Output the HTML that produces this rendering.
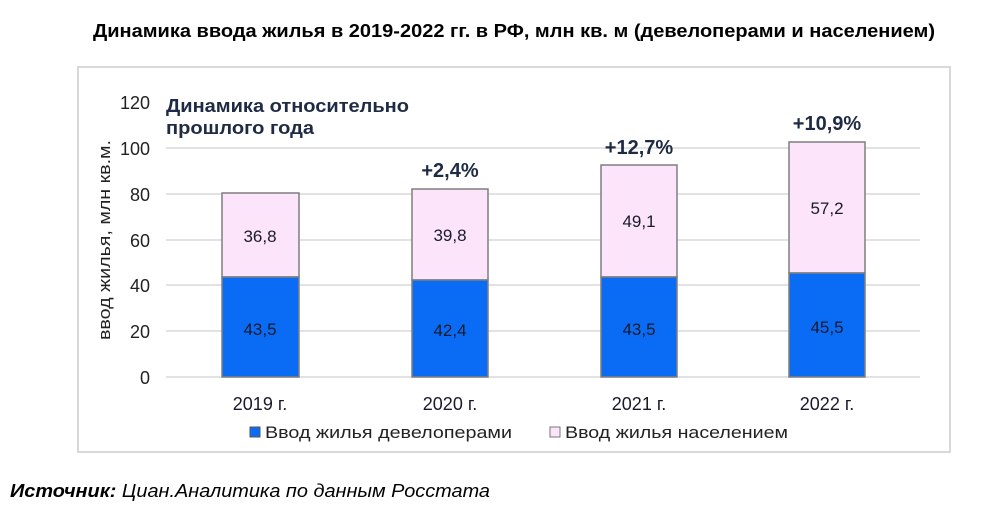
<!DOCTYPE html>
<html><head><meta charset="utf-8"><style>
body{margin:0;background:#fff;width:990px;height:520px;overflow:hidden;font-family:"Liberation Sans",sans-serif}
</style></head><body>
<svg width="990" height="520" xmlns="http://www.w3.org/2000/svg" font-family="Liberation Sans, sans-serif">
<text x="93" y="37" font-size="18" font-weight="bold" fill="#000" textLength="842" lengthAdjust="spacingAndGlyphs">Динамика ввода жилья в 2019-2022 гг. в РФ, млн кв. м (девелоперами и населением)</text>
<rect x="78" y="67" width="872" height="385" fill="#fff" stroke="#d9d9d9" stroke-width="2"/>
<g stroke="#d9d9d9" stroke-width="1.5">
<line x1="166" x2="920" y1="331" y2="331"/><line x1="166" x2="920" y1="285" y2="285"/>
<line x1="166" x2="920" y1="240" y2="240"/><line x1="166" x2="920" y1="194" y2="194"/>
<line x1="166" x2="920" y1="148" y2="148"/><line x1="166" x2="920" y1="377" y2="377"/>
</g>
<g font-size="18" fill="#222" text-anchor="end">
<text x="150" y="384">0</text><text x="150" y="338">20</text><text x="150" y="292">40</text>
<text x="150" y="247">60</text><text x="150" y="201">80</text><text x="150" y="155">100</text><text x="150" y="109">120</text>
</g>
<text transform="translate(110,240) rotate(-90)" text-anchor="middle" font-size="17" fill="#222" textLength="200" lengthAdjust="spacingAndGlyphs">ввод жилья, млн кв.м.</text>
<text x="166" y="112" font-size="18" font-weight="bold" fill="#1f2a44" textLength="243" lengthAdjust="spacingAndGlyphs">Динамика относительно</text>
<text x="166" y="134" font-size="18" font-weight="bold" fill="#1f2a44" textLength="148" lengthAdjust="spacingAndGlyphs">прошлого года</text>
<g stroke="#7f7f7f" stroke-width="1.5">
<rect x="222" y="193" width="77" height="84" fill="#fce4fb"/><rect x="222" y="277" width="77" height="100" fill="#0a6cf5"/>
<rect x="412" y="189" width="76" height="91" fill="#fce4fb"/><rect x="412" y="280" width="76" height="97" fill="#0a6cf5"/>
<rect x="601" y="165" width="76" height="112" fill="#fce4fb"/><rect x="601" y="277" width="76" height="100" fill="#0a6cf5"/>
<rect x="789" y="142" width="76" height="131" fill="#fce4fb"/><rect x="789" y="273" width="76" height="104" fill="#0a6cf5"/>
</g>
<g font-size="17" fill="#1a1a2a" text-anchor="middle">
<text x="260" y="242">36,8</text><text x="260" y="335">43,5</text>
<text x="450" y="241">39,8</text><text x="450" y="336">42,4</text>
<text x="639" y="227">49,1</text><text x="639" y="335">43,5</text>
<text x="827" y="214">57,2</text><text x="827" y="333">45,5</text>
</g>
<g font-size="18" fill="#1a1a2a" text-anchor="middle">
<text x="260" y="410">2019 г.</text><text x="450" y="410">2020 г.</text>
<text x="639" y="410">2021 г.</text><text x="827" y="410">2022 г.</text>
</g>
<g font-size="20" font-weight="bold" fill="#1f2a44" text-anchor="middle">
<text x="450" y="177">+2,4%</text><text x="639" y="154">+12,7%</text><text x="827" y="130">+10,9%</text>
</g>
<rect x="250" y="427" width="10" height="10" fill="#0a6cf5" stroke="#555"/>
<text x="265" y="438" font-size="17" fill="#222" textLength="247" lengthAdjust="spacingAndGlyphs">Ввод жилья девелоперами</text>
<rect x="550" y="427" width="10" height="10" fill="#fce4fb" stroke="#777"/>
<text x="565" y="438" font-size="17" fill="#222" textLength="223" lengthAdjust="spacingAndGlyphs">Ввод жилья населением</text>
<text x="10" y="497" font-size="18" font-style="italic" fill="#000" textLength="480" lengthAdjust="spacingAndGlyphs"><tspan font-weight="bold">Источник:</tspan> Циан.Аналитика по данным Росстата</text>
</svg>
</body></html>
